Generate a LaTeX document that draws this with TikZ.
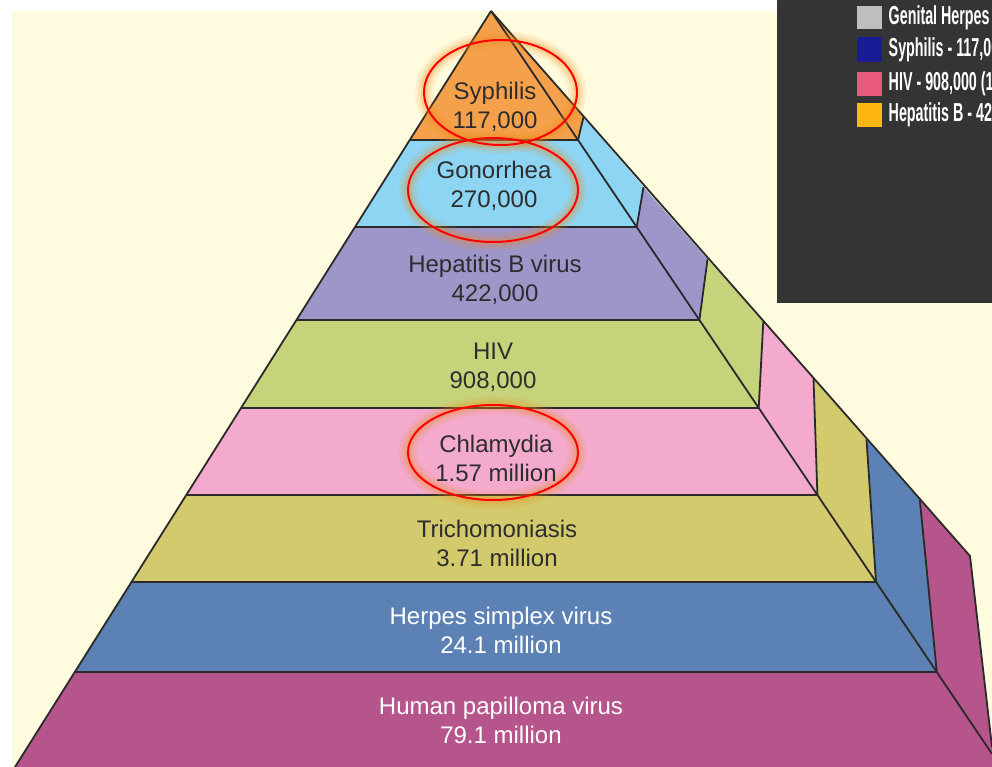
\documentclass[tikz,border=0pt]{standalone}
\usepackage{fontspec}
\setmainfont{Liberation Sans}
\newfontfamily\legfont{Liberation Sans}[FakeStretch=0.55]
\definecolor{cream}{RGB}{254,251,222}
\definecolor{legbg}{RGB}{52,52,52}
\definecolor{cSyph}{RGB}{245,161,75}
\definecolor{cGon}{RGB}{141,213,242}
\definecolor{cHepB}{RGB}{157,150,201}
\definecolor{cHIV}{RGB}{198,211,123}
\definecolor{cChl}{RGB}{243,170,204}
\definecolor{cTri}{RGB}{211,202,109}
\definecolor{cHer}{RGB}{92,129,180}
\definecolor{cHPV}{RGB}{182,85,139}
\definecolor{edge}{RGB}{42,42,42}
\definecolor{txt}{RGB}{45,45,45}
\definecolor{glow}{RGB}{240,140,30}
\definecolor{lgGray}{RGB}{190,190,190}
\definecolor{lgBlue}{RGB}{26,28,150}
\definecolor{lgPink}{RGB}{232,90,122}
\definecolor{lgGold}{RGB}{253,182,18}
\begin{document}
\begin{tikzpicture}[x=1pt,y=-1pt,
  pyline/.style={draw=edge,line width=1.8pt,line join=round},
  lbl/.style={align=center,inner sep=0pt,font=\fontsize{24}{29}\selectfont,text=txt},
  lblw/.style={lbl,text=white},
  redring/.style={draw=red,line width=2pt},
  glowring/.style={draw=glow},
  legtext/.style={anchor=west,inner sep=0pt,text=white,font=\legfont\bfseries\fontsize{26}{28}\selectfont}]
\useasboundingbox (0,0) rectangle (992,767);
\fill[white] (0,0) rectangle (992,767);
\fill[cream] (12,11) rectangle (992,767);
% key points
\coordinate (A) at (491,11);
\coordinate (BL) at (15,767);
\coordinate (DR) at (992,753.9);
% left points
\coordinate (L1) at (409.8,140);
\coordinate (L2) at (355,227);
\coordinate (L3) at (296.5,320);
\coordinate (L4) at (241,408);
\coordinate (L5) at (186.3,495);
\coordinate (L6) at (131.5,582);
\coordinate (L7) at (74.8,672);
% front right corners
\coordinate (F1) at (578,140);
\coordinate (F2) at (636.7,227);
\coordinate (F3) at (699.4,320);
\coordinate (F4) at (758.7,408);
\coordinate (F5) at (817.4,495);
\coordinate (F6) at (876,582);
\coordinate (F7) at (936.8,672);
% outer corners
\coordinate (O1) at (583.5,117);
\coordinate (O2) at (643.5,187);
\coordinate (O3) at (707.5,259.3);
\coordinate (O4) at (763.3,321.5);
\coordinate (O5) at (813.5,378.5);
\coordinate (O6) at (866.5,439.3);
\coordinate (O7) at (919.8,500);
\coordinate (O8) at (970,556);
\coordinate (RE) at (992,747);
% front faces
\fill[cSyph] (A) -- (F1) -- (L1) -- cycle;
\fill[cGon] (L1) -- (F1) -- (F2) -- (L2) -- cycle;
\fill[cHepB] (L2) -- (F2) -- (F3) -- (L3) -- cycle;
\fill[cHIV] (L3) -- (F3) -- (F4) -- (L4) -- cycle;
\fill[cChl] (L4) -- (F4) -- (F5) -- (L5) -- cycle;
\fill[cTri] (L5) -- (F5) -- (F6) -- (L6) -- cycle;
\fill[cHer] (L6) -- (F6) -- (F7) -- (L7) -- cycle;
\fill[cHPV] (L7) -- (F7) -- (DR) -- (992,767) -- (BL) -- cycle;
% side faces
\fill[cSyph] (A) -- (O1) -- (F1) -- cycle;
\fill[cGon] (F1) -- (O1) -- (O2) -- (F2) -- cycle;
\fill[cHepB] (F2) -- (O2) -- (O3) -- (F3) -- cycle;
\fill[cHIV] (F3) -- (O3) -- (O4) -- (F4) -- cycle;
\fill[cChl] (F4) -- (O4) -- (O5) -- (F5) -- cycle;
\fill[cTri] (F5) -- (O5) -- (O6) -- (F6) -- cycle;
\fill[cHer] (F6) -- (O6) -- (O7) -- (F7) -- cycle;
\fill[cHPV] (F7) -- (O7) -- (O8) -- (RE) -- (DR) -- cycle;
% edges
\draw[pyline] (A) -- (BL);
\draw[pyline] (A) -- (DR);
\draw[pyline] (A) -- (O8) -- (RE);
\foreach \i in {1,...,7} {
  \draw[pyline] (L\i) -- (F\i);
  \draw[pyline] (F\i) -- (O\i);
}
% glows
\foreach \w/\o in {18/0.10,12/0.14,7/0.2} {
  \draw[glowring,line width=\w pt,opacity=\o] (500.5,92.5) ellipse [x radius=76.5, y radius=52.5];
  \draw[glowring,line width=\w pt,opacity=\o] (493,190) ellipse [x radius=85, y radius=52];
  \draw[glowring,line width=\w pt,opacity=\o] (493,452.5) ellipse [x radius=85, y radius=47.5];
}
% labels
\node[lbl] (syph) at (495,107) {Syphilis\\117,000};
\node[lbl] (gon) at (494,186) {Gonorrhea\\270,000};
\node[lbl] (hepb) at (495,279.5) {Hepatitis B virus\\422,000};
\node[lbl] (hiv) at (493,367.5) {HIV\\908,000};
\node[lbl] (chl) at (496,458) {Chlamydia\\1.57 million};
\node[lbl] (tri) at (497,543.5) {Trichomoniasis\\3.71 million};
\node[lblw] (her) at (501,630) {Herpes simplex virus\\24.1 million};
\node[lblw] (hpv) at (501,720.5) {Human papilloma virus\\79.1 million};
% red rings
\draw[redring] (500.5,92.5) ellipse [x radius=76.5, y radius=52.5];
\draw[redring] (493,190) ellipse [x radius=85, y radius=52];
\draw[redring] (493,452.5) ellipse [x radius=85, y radius=47.5];
% legend
\fill[legbg] (777,0) rectangle (992,303);
\fill[lgGray] (857,6) rectangle (882,29);
\fill[lgBlue] (857,37) rectangle (882,62);
\fill[lgPink] (857,72) rectangle (882,96);
\fill[lgGold] (857,103) rectangle (882,127);
\begin{scope}
\clip (777,0) rectangle (992,303);
\node[legtext] (lg1) at (888.5,17.5) {Genital Herpes -};
\node[legtext] (lg2) at (888.5,49.5) {Syphilis - 117,00};
\node[legtext] (lg3) at (888.5,84) {HIV - 908,000 (1};
\node[legtext] (lg4) at (888.5,115) {Hepatitis B - 42};
\end{scope}
\end{tikzpicture}
\end{document}
